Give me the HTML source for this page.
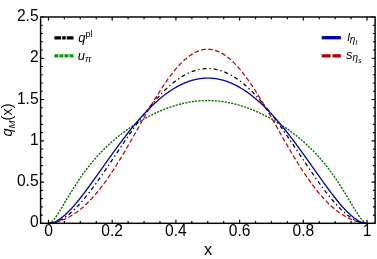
<!DOCTYPE html>
<html><head><meta charset="utf-8"><title>plot</title>
<style>
html,body{margin:0;padding:0;background:#fff;}
body{width:377px;height:259px;overflow:hidden;font-family:"Liberation Sans",sans-serif;}
svg{display:block;will-change:transform;opacity:0.999;}
text{font-family:"Liberation Sans",sans-serif;fill:#000;}
</style></head><body>
<svg width="377" height="259" viewBox="0 0 377 259">
<rect x="0" y="0" width="377" height="259" fill="#fff"/>
<defs><clipPath id="c"><rect x="40.6" y="17.0" width="334.5" height="206.3"/></clipPath></defs>
<g clip-path="url(#c)" fill="none" stroke-linejoin="round">
<path d="M48.50,223.30 L49.30,223.17 L50.09,222.83 L50.89,222.34 L51.69,221.70 L52.48,220.95 L53.28,220.11 L54.07,219.18 L54.87,218.19 L55.67,217.13 L56.46,216.02 L57.26,214.86 L58.05,213.66 L58.85,212.44 L59.65,211.18 L60.44,209.90 L61.24,208.61 L62.04,207.30 L62.83,205.98 L63.63,204.65 L64.42,203.31 L65.22,201.97 L66.02,200.63 L66.81,199.29 L67.61,197.96 L68.41,196.62 L69.20,195.30 L70.00,193.98 L70.80,192.67 L71.59,191.37 L72.39,190.07 L73.18,188.79 L73.98,187.52 L74.78,186.26 L75.57,185.02 L76.37,183.78 L77.16,182.56 L77.96,181.36 L78.76,180.16 L79.55,178.98 L80.35,177.82 L81.15,176.67 L81.94,175.53 L82.74,174.41 L83.53,173.30 L84.33,172.20 L85.13,171.12 L85.92,170.05 L86.72,169.00 L87.52,167.95 L88.31,166.93 L89.11,165.91 L89.91,164.91 L90.70,163.93 L91.50,162.95 L92.29,161.99 L93.09,161.04 L93.89,160.10 L94.68,159.18 L95.48,158.27 L96.28,157.36 L97.07,156.48 L97.87,155.60 L98.66,154.73 L99.46,153.88 L100.26,153.03 L101.05,152.20 L101.85,151.37 L102.65,150.56 L103.44,149.76 L104.24,148.96 L105.03,148.18 L105.83,147.41 L106.63,146.64 L107.42,145.89 L108.22,145.14 L109.02,144.41 L109.81,143.68 L110.61,142.96 L111.40,142.25 L112.20,141.54 L113.00,140.85 L113.79,140.16 L114.59,139.48 L115.38,138.81 L116.18,138.15 L116.98,137.49 L117.77,136.84 L118.57,136.20 L119.37,135.57 L120.16,134.94 L120.96,134.32 L121.76,133.71 L122.55,133.10 L123.35,132.50 L124.14,131.91 L124.94,131.32 L125.74,130.74 L126.53,130.17 L127.33,129.60 L128.12,129.04 L128.92,128.48 L129.72,127.93 L130.51,127.39 L131.31,126.85 L132.11,126.32 L132.90,125.79 L133.70,125.27 L134.50,124.75 L135.29,124.25 L136.09,123.74 L136.88,123.24 L137.68,122.75 L138.48,122.26 L139.27,121.78 L140.07,121.31 L140.87,120.83 L141.66,120.37 L142.46,119.91 L143.25,119.45 L144.05,119.00 L144.85,118.56 L145.64,118.12 L146.44,117.69 L147.24,117.26 L148.03,116.83 L148.83,116.41 L149.62,116.00 L150.42,115.59 L151.22,115.19 L152.01,114.79 L152.81,114.40 L153.61,114.01 L154.40,113.63 L155.20,113.26 L155.99,112.88 L156.79,112.52 L157.59,112.16 L158.38,111.80 L159.18,111.45 L159.98,111.10 L160.77,110.76 L161.57,110.43 L162.36,110.10 L163.16,109.77 L163.96,109.46 L164.75,109.14 L165.55,108.83 L166.34,108.53 L167.14,108.23 L167.94,107.94 L168.73,107.65 L169.53,107.37 L170.33,107.09 L171.12,106.82 L171.92,106.56 L172.72,106.30 L173.51,106.04 L174.31,105.80 L175.10,105.55 L175.90,105.32 L176.70,105.08 L177.49,104.86 L178.29,104.64 L179.09,104.42 L179.88,104.21 L180.68,104.01 L181.47,103.81 L182.27,103.62 L183.07,103.43 L183.86,103.25 L184.66,103.07 L185.45,102.90 L186.25,102.74 L187.05,102.58 L187.84,102.43 L188.64,102.28 L189.44,102.14 L190.23,102.01 L191.03,101.88 L191.83,101.76 L192.62,101.64 L193.42,101.53 L194.21,101.42 L195.01,101.32 L195.81,101.23 L196.60,101.14 L197.40,101.06 L198.20,100.99 L198.99,100.92 L199.79,100.85 L200.58,100.80 L201.38,100.75 L202.18,100.70 L202.97,100.66 L203.77,100.63 L204.56,100.60 L205.36,100.58 L206.16,100.56 L206.95,100.56 L207.75,100.55 L208.55,100.56 L209.34,100.56 L210.14,100.58 L210.94,100.60 L211.73,100.63 L212.53,100.66 L213.32,100.70 L214.12,100.75 L214.92,100.80 L215.71,100.85 L216.51,100.92 L217.31,100.99 L218.10,101.06 L218.90,101.14 L219.69,101.23 L220.49,101.32 L221.29,101.42 L222.08,101.53 L222.88,101.64 L223.68,101.76 L224.47,101.88 L225.27,102.01 L226.06,102.14 L226.86,102.28 L227.66,102.43 L228.45,102.58 L229.25,102.74 L230.05,102.90 L230.84,103.07 L231.64,103.25 L232.43,103.43 L233.23,103.62 L234.03,103.81 L234.82,104.01 L235.62,104.21 L236.41,104.42 L237.21,104.64 L238.01,104.86 L238.80,105.08 L239.60,105.32 L240.40,105.55 L241.19,105.80 L241.99,106.04 L242.78,106.30 L243.58,106.56 L244.38,106.82 L245.17,107.09 L245.97,107.37 L246.77,107.65 L247.56,107.94 L248.36,108.23 L249.16,108.53 L249.95,108.83 L250.75,109.14 L251.54,109.46 L252.34,109.77 L253.14,110.10 L253.93,110.43 L254.73,110.76 L255.53,111.10 L256.32,111.45 L257.12,111.80 L257.91,112.16 L258.71,112.52 L259.51,112.88 L260.30,113.26 L261.10,113.63 L261.89,114.01 L262.69,114.40 L263.49,114.79 L264.28,115.19 L265.08,115.59 L265.88,116.00 L266.67,116.41 L267.47,116.83 L268.26,117.26 L269.06,117.69 L269.86,118.12 L270.65,118.56 L271.45,119.00 L272.25,119.45 L273.04,119.91 L273.84,120.37 L274.63,120.83 L275.43,121.31 L276.23,121.78 L277.02,122.26 L277.82,122.75 L278.62,123.24 L279.41,123.74 L280.21,124.25 L281.00,124.75 L281.80,125.27 L282.60,125.79 L283.39,126.32 L284.19,126.85 L284.99,127.39 L285.78,127.93 L286.58,128.48 L287.38,129.04 L288.17,129.60 L288.97,130.17 L289.76,130.74 L290.56,131.32 L291.36,131.91 L292.15,132.50 L292.95,133.10 L293.75,133.71 L294.54,134.32 L295.34,134.94 L296.13,135.57 L296.93,136.20 L297.73,136.84 L298.52,137.49 L299.32,138.15 L300.12,138.81 L300.91,139.48 L301.71,140.16 L302.50,140.85 L303.30,141.54 L304.10,142.25 L304.89,142.96 L305.69,143.68 L306.49,144.41 L307.28,145.14 L308.08,145.89 L308.87,146.64 L309.67,147.41 L310.47,148.18 L311.26,148.96 L312.06,149.76 L312.86,150.56 L313.65,151.37 L314.45,152.20 L315.24,153.03 L316.04,153.88 L316.84,154.73 L317.63,155.60 L318.43,156.48 L319.22,157.36 L320.02,158.27 L320.82,159.18 L321.61,160.10 L322.41,161.04 L323.21,161.99 L324.00,162.95 L324.80,163.93 L325.59,164.91 L326.39,165.91 L327.19,166.93 L327.98,167.95 L328.78,169.00 L329.58,170.05 L330.37,171.12 L331.17,172.20 L331.97,173.30 L332.76,174.41 L333.56,175.53 L334.35,176.67 L335.15,177.82 L335.95,178.98 L336.74,180.16 L337.54,181.36 L338.34,182.56 L339.13,183.78 L339.93,185.02 L340.72,186.26 L341.52,187.52 L342.32,188.79 L343.11,190.07 L343.91,191.37 L344.71,192.67 L345.50,193.98 L346.30,195.30 L347.09,196.62 L347.89,197.96 L348.69,199.29 L349.48,200.63 L350.28,201.97 L351.08,203.31 L351.87,204.65 L352.67,205.98 L353.46,207.30 L354.26,208.61 L355.06,209.90 L355.85,211.18 L356.65,212.44 L357.44,213.66 L358.24,214.86 L359.04,216.02 L359.83,217.13 L360.63,218.19 L361.43,219.18 L362.22,220.11 L363.02,220.95 L363.81,221.70 L364.61,222.34 L365.41,222.83 L366.20,223.17 L367.00,223.30" stroke="#067206" stroke-width="1.4" stroke-dasharray="2.1 1.2"/>
<path d="M48.50,223.30 L49.30,223.28 L50.09,223.24 L50.89,223.17 L51.69,223.07 L52.48,222.96 L53.28,222.83 L54.07,222.68 L54.87,222.51 L55.67,222.33 L56.46,222.13 L57.26,221.92 L58.05,221.69 L58.85,221.44 L59.65,221.18 L60.44,220.91 L61.24,220.62 L62.04,220.32 L62.83,220.00 L63.63,219.67 L64.42,219.32 L65.22,218.96 L66.02,218.59 L66.81,218.20 L67.61,217.80 L68.41,217.38 L69.20,216.95 L70.00,216.51 L70.80,216.05 L71.59,215.57 L72.39,215.08 L73.18,214.58 L73.98,214.06 L74.78,213.53 L75.57,212.98 L76.37,212.42 L77.16,211.84 L77.96,211.25 L78.76,210.64 L79.55,210.02 L80.35,209.38 L81.15,208.73 L81.94,208.06 L82.74,207.38 L83.53,206.68 L84.33,205.96 L85.13,205.24 L85.92,204.49 L86.72,203.73 L87.52,202.96 L88.31,202.17 L89.11,201.36 L89.91,200.54 L90.70,199.71 L91.50,198.86 L92.29,197.99 L93.09,197.11 L93.89,196.21 L94.68,195.30 L95.48,194.38 L96.28,193.44 L97.07,192.48 L97.87,191.51 L98.66,190.53 L99.46,189.53 L100.26,188.52 L101.05,187.49 L101.85,186.45 L102.65,185.40 L103.44,184.33 L104.24,183.25 L105.03,182.16 L105.83,181.05 L106.63,179.93 L107.42,178.80 L108.22,177.65 L109.02,176.49 L109.81,175.32 L110.61,174.14 L111.40,172.95 L112.20,171.74 L113.00,170.53 L113.79,169.30 L114.59,168.06 L115.38,166.81 L116.18,165.56 L116.98,164.29 L117.77,163.01 L118.57,161.72 L119.37,160.43 L120.16,159.12 L120.96,157.81 L121.76,156.49 L122.55,155.16 L123.35,153.83 L124.14,152.48 L124.94,151.13 L125.74,149.78 L126.53,148.42 L127.33,147.05 L128.12,145.68 L128.92,144.30 L129.72,142.92 L130.51,141.53 L131.31,140.14 L132.11,138.75 L132.90,137.35 L133.70,135.95 L134.50,134.55 L135.29,133.15 L136.09,131.74 L136.88,130.34 L137.68,128.93 L138.48,127.53 L139.27,126.12 L140.07,124.71 L140.87,123.31 L141.66,121.91 L142.46,120.50 L143.25,119.11 L144.05,117.71 L144.85,116.32 L145.64,114.93 L146.44,113.54 L147.24,112.16 L148.03,110.78 L148.83,109.41 L149.62,108.05 L150.42,106.69 L151.22,105.34 L152.01,103.99 L152.81,102.65 L153.61,101.32 L154.40,100.00 L155.20,98.69 L155.99,97.38 L156.79,96.09 L157.59,94.80 L158.38,93.53 L159.18,92.27 L159.98,91.01 L160.77,89.77 L161.57,88.55 L162.36,87.33 L163.16,86.13 L163.96,84.94 L164.75,83.76 L165.55,82.60 L166.34,81.45 L167.14,80.31 L167.94,79.20 L168.73,78.09 L169.53,77.01 L170.33,75.94 L171.12,74.88 L171.92,73.84 L172.72,72.82 L173.51,71.82 L174.31,70.84 L175.10,69.87 L175.90,68.93 L176.70,68.00 L177.49,67.09 L178.29,66.20 L179.09,65.33 L179.88,64.48 L180.68,63.65 L181.47,62.84 L182.27,62.06 L183.07,61.29 L183.86,60.55 L184.66,59.83 L185.45,59.13 L186.25,58.45 L187.05,57.79 L187.84,57.16 L188.64,56.55 L189.44,55.97 L190.23,55.40 L191.03,54.86 L191.83,54.35 L192.62,53.86 L193.42,53.39 L194.21,52.95 L195.01,52.53 L195.81,52.14 L196.60,51.77 L197.40,51.42 L198.20,51.10 L198.99,50.81 L199.79,50.54 L200.58,50.30 L201.38,50.08 L202.18,49.89 L202.97,49.72 L203.77,49.58 L204.56,49.46 L205.36,49.37 L206.16,49.31 L206.95,49.27 L207.75,49.26 L208.55,49.27 L209.34,49.31 L210.14,49.37 L210.94,49.46 L211.73,49.58 L212.53,49.72 L213.32,49.89 L214.12,50.08 L214.92,50.30 L215.71,50.54 L216.51,50.81 L217.31,51.10 L218.10,51.42 L218.90,51.77 L219.69,52.14 L220.49,52.53 L221.29,52.95 L222.08,53.39 L222.88,53.86 L223.68,54.35 L224.47,54.86 L225.27,55.40 L226.06,55.97 L226.86,56.55 L227.66,57.16 L228.45,57.79 L229.25,58.45 L230.05,59.13 L230.84,59.83 L231.64,60.55 L232.43,61.29 L233.23,62.06 L234.03,62.84 L234.82,63.65 L235.62,64.48 L236.41,65.33 L237.21,66.20 L238.01,67.09 L238.80,68.00 L239.60,68.93 L240.40,69.87 L241.19,70.84 L241.99,71.82 L242.78,72.82 L243.58,73.84 L244.38,74.88 L245.17,75.94 L245.97,77.01 L246.77,78.09 L247.56,79.20 L248.36,80.31 L249.16,81.45 L249.95,82.60 L250.75,83.76 L251.54,84.94 L252.34,86.13 L253.14,87.33 L253.93,88.55 L254.73,89.77 L255.53,91.01 L256.32,92.27 L257.12,93.53 L257.91,94.80 L258.71,96.09 L259.51,97.38 L260.30,98.69 L261.10,100.00 L261.89,101.32 L262.69,102.65 L263.49,103.99 L264.28,105.34 L265.08,106.69 L265.88,108.05 L266.67,109.41 L267.47,110.78 L268.26,112.16 L269.06,113.54 L269.86,114.93 L270.65,116.32 L271.45,117.71 L272.25,119.11 L273.04,120.50 L273.84,121.91 L274.63,123.31 L275.43,124.71 L276.23,126.12 L277.02,127.53 L277.82,128.93 L278.62,130.34 L279.41,131.74 L280.21,133.15 L281.00,134.55 L281.80,135.95 L282.60,137.35 L283.39,138.75 L284.19,140.14 L284.99,141.53 L285.78,142.92 L286.58,144.30 L287.38,145.68 L288.17,147.05 L288.97,148.42 L289.76,149.78 L290.56,151.13 L291.36,152.48 L292.15,153.83 L292.95,155.16 L293.75,156.49 L294.54,157.81 L295.34,159.12 L296.13,160.43 L296.93,161.72 L297.73,163.01 L298.52,164.29 L299.32,165.56 L300.12,166.81 L300.91,168.06 L301.71,169.30 L302.50,170.53 L303.30,171.74 L304.10,172.95 L304.89,174.14 L305.69,175.32 L306.49,176.49 L307.28,177.65 L308.08,178.80 L308.87,179.93 L309.67,181.05 L310.47,182.16 L311.26,183.25 L312.06,184.33 L312.86,185.40 L313.65,186.45 L314.45,187.49 L315.24,188.52 L316.04,189.53 L316.84,190.53 L317.63,191.51 L318.43,192.48 L319.22,193.44 L320.02,194.38 L320.82,195.30 L321.61,196.21 L322.41,197.11 L323.21,197.99 L324.00,198.86 L324.80,199.71 L325.59,200.54 L326.39,201.36 L327.19,202.17 L327.98,202.96 L328.78,203.73 L329.58,204.49 L330.37,205.24 L331.17,205.96 L331.97,206.68 L332.76,207.38 L333.56,208.06 L334.35,208.73 L335.15,209.38 L335.95,210.02 L336.74,210.64 L337.54,211.25 L338.34,211.84 L339.13,212.42 L339.93,212.98 L340.72,213.53 L341.52,214.06 L342.32,214.58 L343.11,215.08 L343.91,215.57 L344.71,216.05 L345.50,216.51 L346.30,216.95 L347.09,217.38 L347.89,217.80 L348.69,218.20 L349.48,218.59 L350.28,218.96 L351.08,219.32 L351.87,219.67 L352.67,220.00 L353.46,220.32 L354.26,220.62 L355.06,220.91 L355.85,221.18 L356.65,221.44 L357.44,221.69 L358.24,221.92 L359.04,222.13 L359.83,222.33 L360.63,222.51 L361.43,222.68 L362.22,222.83 L363.02,222.96 L363.81,223.07 L364.61,223.17 L365.41,223.24 L366.20,223.28 L367.00,223.30" stroke="#c00000" stroke-width="1.25" stroke-dasharray="4.6 2.4"/>
<path d="M48.50,223.30 L49.30,223.28 L50.09,223.24 L50.89,223.16 L51.69,223.06 L52.48,222.92 L53.28,222.76 L54.07,222.57 L54.87,222.35 L55.67,222.10 L56.46,221.83 L57.26,221.53 L58.05,221.20 L58.85,220.85 L59.65,220.48 L60.44,220.07 L61.24,219.65 L62.04,219.20 L62.83,218.73 L63.63,218.23 L64.42,217.71 L65.22,217.17 L66.02,216.61 L66.81,216.03 L67.61,215.43 L68.41,214.80 L69.20,214.16 L70.00,213.49 L70.80,212.81 L71.59,212.11 L72.39,211.39 L73.18,210.65 L73.98,209.89 L74.78,209.12 L75.57,208.33 L76.37,207.52 L77.16,206.69 L77.96,205.86 L78.76,205.00 L79.55,204.13 L80.35,203.25 L81.15,202.35 L81.94,201.44 L82.74,200.51 L83.53,199.57 L84.33,198.62 L85.13,197.66 L85.92,196.68 L86.72,195.69 L87.52,194.69 L88.31,193.68 L89.11,192.66 L89.91,191.63 L90.70,190.59 L91.50,189.54 L92.29,188.48 L93.09,187.41 L93.89,186.34 L94.68,185.25 L95.48,184.16 L96.28,183.06 L97.07,181.95 L97.87,180.83 L98.66,179.71 L99.46,178.58 L100.26,177.45 L101.05,176.31 L101.85,175.16 L102.65,174.01 L103.44,172.86 L104.24,171.70 L105.03,170.53 L105.83,169.37 L106.63,168.20 L107.42,167.02 L108.22,165.84 L109.02,164.66 L109.81,163.48 L110.61,162.30 L111.40,161.11 L112.20,159.92 L113.00,158.74 L113.79,157.55 L114.59,156.36 L115.38,155.16 L116.18,153.97 L116.98,152.78 L117.77,151.59 L118.57,150.40 L119.37,149.21 L120.16,148.03 L120.96,146.84 L121.76,145.65 L122.55,144.47 L123.35,143.29 L124.14,142.11 L124.94,140.94 L125.74,139.76 L126.53,138.60 L127.33,137.43 L128.12,136.27 L128.92,135.11 L129.72,133.95 L130.51,132.80 L131.31,131.66 L132.11,130.52 L132.90,129.38 L133.70,128.25 L134.50,127.13 L135.29,126.01 L136.09,124.89 L136.88,123.79 L137.68,122.69 L138.48,121.59 L139.27,120.50 L140.07,119.42 L140.87,118.35 L141.66,117.28 L142.46,116.22 L143.25,115.17 L144.05,114.13 L144.85,113.09 L145.64,112.06 L146.44,111.04 L147.24,110.03 L148.03,109.03 L148.83,108.04 L149.62,107.06 L150.42,106.08 L151.22,105.12 L152.01,104.16 L152.81,103.22 L153.61,102.28 L154.40,101.35 L155.20,100.44 L155.99,99.53 L156.79,98.64 L157.59,97.76 L158.38,96.88 L159.18,96.02 L159.98,95.17 L160.77,94.33 L161.57,93.51 L162.36,92.69 L163.16,91.88 L163.96,91.09 L164.75,90.31 L165.55,89.54 L166.34,88.79 L167.14,88.04 L167.94,87.31 L168.73,86.59 L169.53,85.89 L170.33,85.19 L171.12,84.51 L171.92,83.84 L172.72,83.19 L173.51,82.55 L174.31,81.92 L175.10,81.31 L175.90,80.71 L176.70,80.12 L177.49,79.54 L178.29,78.98 L179.09,78.44 L179.88,77.91 L180.68,77.39 L181.47,76.89 L182.27,76.40 L183.07,75.92 L183.86,75.46 L184.66,75.01 L185.45,74.58 L186.25,74.16 L187.05,73.76 L187.84,73.37 L188.64,73.00 L189.44,72.64 L190.23,72.30 L191.03,71.97 L191.83,71.65 L192.62,71.36 L193.42,71.07 L194.21,70.80 L195.01,70.55 L195.81,70.31 L196.60,70.09 L197.40,69.88 L198.20,69.69 L198.99,69.51 L199.79,69.35 L200.58,69.20 L201.38,69.07 L202.18,68.95 L202.97,68.85 L203.77,68.77 L204.56,68.70 L205.36,68.64 L206.16,68.61 L206.95,68.58 L207.75,68.58 L208.55,68.58 L209.34,68.61 L210.14,68.64 L210.94,68.70 L211.73,68.77 L212.53,68.85 L213.32,68.95 L214.12,69.07 L214.92,69.20 L215.71,69.35 L216.51,69.51 L217.31,69.69 L218.10,69.88 L218.90,70.09 L219.69,70.31 L220.49,70.55 L221.29,70.80 L222.08,71.07 L222.88,71.36 L223.68,71.65 L224.47,71.97 L225.27,72.30 L226.06,72.64 L226.86,73.00 L227.66,73.37 L228.45,73.76 L229.25,74.16 L230.05,74.58 L230.84,75.01 L231.64,75.46 L232.43,75.92 L233.23,76.40 L234.03,76.89 L234.82,77.39 L235.62,77.91 L236.41,78.44 L237.21,78.98 L238.01,79.54 L238.80,80.12 L239.60,80.71 L240.40,81.31 L241.19,81.92 L241.99,82.55 L242.78,83.19 L243.58,83.84 L244.38,84.51 L245.17,85.19 L245.97,85.89 L246.77,86.59 L247.56,87.31 L248.36,88.04 L249.16,88.79 L249.95,89.54 L250.75,90.31 L251.54,91.09 L252.34,91.88 L253.14,92.69 L253.93,93.51 L254.73,94.33 L255.53,95.17 L256.32,96.02 L257.12,96.88 L257.91,97.76 L258.71,98.64 L259.51,99.53 L260.30,100.44 L261.10,101.35 L261.89,102.28 L262.69,103.22 L263.49,104.16 L264.28,105.12 L265.08,106.08 L265.88,107.06 L266.67,108.04 L267.47,109.03 L268.26,110.03 L269.06,111.04 L269.86,112.06 L270.65,113.09 L271.45,114.13 L272.25,115.17 L273.04,116.22 L273.84,117.28 L274.63,118.35 L275.43,119.42 L276.23,120.50 L277.02,121.59 L277.82,122.69 L278.62,123.79 L279.41,124.89 L280.21,126.01 L281.00,127.13 L281.80,128.25 L282.60,129.38 L283.39,130.52 L284.19,131.66 L284.99,132.80 L285.78,133.95 L286.58,135.11 L287.38,136.27 L288.17,137.43 L288.97,138.60 L289.76,139.76 L290.56,140.94 L291.36,142.11 L292.15,143.29 L292.95,144.47 L293.75,145.65 L294.54,146.84 L295.34,148.03 L296.13,149.21 L296.93,150.40 L297.73,151.59 L298.52,152.78 L299.32,153.97 L300.12,155.16 L300.91,156.36 L301.71,157.55 L302.50,158.74 L303.30,159.92 L304.10,161.11 L304.89,162.30 L305.69,163.48 L306.49,164.66 L307.28,165.84 L308.08,167.02 L308.87,168.20 L309.67,169.37 L310.47,170.53 L311.26,171.70 L312.06,172.86 L312.86,174.01 L313.65,175.16 L314.45,176.31 L315.24,177.45 L316.04,178.58 L316.84,179.71 L317.63,180.83 L318.43,181.95 L319.22,183.06 L320.02,184.16 L320.82,185.25 L321.61,186.34 L322.41,187.41 L323.21,188.48 L324.00,189.54 L324.80,190.59 L325.59,191.63 L326.39,192.66 L327.19,193.68 L327.98,194.69 L328.78,195.69 L329.58,196.68 L330.37,197.66 L331.17,198.62 L331.97,199.57 L332.76,200.51 L333.56,201.44 L334.35,202.35 L335.15,203.25 L335.95,204.13 L336.74,205.00 L337.54,205.86 L338.34,206.69 L339.13,207.52 L339.93,208.33 L340.72,209.12 L341.52,209.89 L342.32,210.65 L343.11,211.39 L343.91,212.11 L344.71,212.81 L345.50,213.49 L346.30,214.16 L347.09,214.80 L347.89,215.43 L348.69,216.03 L349.48,216.61 L350.28,217.17 L351.08,217.71 L351.87,218.23 L352.67,218.73 L353.46,219.20 L354.26,219.65 L355.06,220.07 L355.85,220.48 L356.65,220.85 L357.44,221.20 L358.24,221.53 L359.04,221.83 L359.83,222.10 L360.63,222.35 L361.43,222.57 L362.22,222.76 L363.02,222.92 L363.81,223.06 L364.61,223.16 L365.41,223.24 L366.20,223.28 L367.00,223.30" stroke="#000" stroke-width="1.25" stroke-dasharray="4 2.9 1.4 2.9"/>
<path d="M48.50,223.30 L49.30,223.27 L50.09,223.20 L50.89,223.07 L51.69,222.90 L52.48,222.69 L53.28,222.44 L54.07,222.14 L54.87,221.82 L55.67,221.45 L56.46,221.05 L57.26,220.62 L58.05,220.15 L58.85,219.66 L59.65,219.13 L60.44,218.58 L61.24,218.00 L62.04,217.39 L62.83,216.76 L63.63,216.10 L64.42,215.42 L65.22,214.72 L66.02,213.99 L66.81,213.25 L67.61,212.48 L68.41,211.69 L69.20,210.89 L70.00,210.06 L70.80,209.22 L71.59,208.37 L72.39,207.49 L73.18,206.60 L73.98,205.70 L74.78,204.78 L75.57,203.85 L76.37,202.91 L77.16,201.95 L77.96,200.98 L78.76,200.00 L79.55,199.01 L80.35,198.00 L81.15,196.99 L81.94,195.97 L82.74,194.94 L83.53,193.90 L84.33,192.86 L85.13,191.80 L85.92,190.74 L86.72,189.67 L87.52,188.60 L88.31,187.52 L89.11,186.43 L89.91,185.34 L90.70,184.25 L91.50,183.15 L92.29,182.04 L93.09,180.93 L93.89,179.82 L94.68,178.71 L95.48,177.59 L96.28,176.47 L97.07,175.35 L97.87,174.23 L98.66,173.11 L99.46,171.98 L100.26,170.85 L101.05,169.73 L101.85,168.60 L102.65,167.47 L103.44,166.34 L104.24,165.22 L105.03,164.09 L105.83,162.97 L106.63,161.84 L107.42,160.72 L108.22,159.60 L109.02,158.48 L109.81,157.37 L110.61,156.25 L111.40,155.14 L112.20,154.03 L113.00,152.93 L113.79,151.83 L114.59,150.73 L115.38,149.63 L116.18,148.54 L116.98,147.45 L117.77,146.37 L118.57,145.29 L119.37,144.22 L120.16,143.15 L120.96,142.08 L121.76,141.02 L122.55,139.97 L123.35,138.92 L124.14,137.88 L124.94,136.84 L125.74,135.81 L126.53,134.78 L127.33,133.76 L128.12,132.75 L128.92,131.74 L129.72,130.74 L130.51,129.75 L131.31,128.76 L132.11,127.78 L132.90,126.81 L133.70,125.84 L134.50,124.88 L135.29,123.93 L136.09,122.99 L136.88,122.05 L137.68,121.13 L138.48,120.21 L139.27,119.29 L140.07,118.39 L140.87,117.49 L141.66,116.60 L142.46,115.72 L143.25,114.85 L144.05,113.99 L144.85,113.14 L145.64,112.29 L146.44,111.46 L147.24,110.63 L148.03,109.81 L148.83,109.00 L149.62,108.20 L150.42,107.41 L151.22,106.63 L152.01,105.85 L152.81,105.09 L153.61,104.34 L154.40,103.59 L155.20,102.86 L155.99,102.14 L156.79,101.42 L157.59,100.72 L158.38,100.02 L159.18,99.34 L159.98,98.66 L160.77,98.00 L161.57,97.34 L162.36,96.70 L163.16,96.06 L163.96,95.44 L164.75,94.83 L165.55,94.22 L166.34,93.63 L167.14,93.05 L167.94,92.48 L168.73,91.92 L169.53,91.37 L170.33,90.83 L171.12,90.30 L171.92,89.78 L172.72,89.27 L173.51,88.78 L174.31,88.29 L175.10,87.82 L175.90,87.35 L176.70,86.90 L177.49,86.46 L178.29,86.03 L179.09,85.61 L179.88,85.20 L180.68,84.81 L181.47,84.42 L182.27,84.05 L183.07,83.68 L183.86,83.33 L184.66,82.99 L185.45,82.66 L186.25,82.34 L187.05,82.04 L187.84,81.74 L188.64,81.46 L189.44,81.18 L190.23,80.92 L191.03,80.67 L191.83,80.44 L192.62,80.21 L193.42,80.00 L194.21,79.79 L195.01,79.60 L195.81,79.42 L196.60,79.25 L197.40,79.09 L198.20,78.95 L198.99,78.81 L199.79,78.69 L200.58,78.58 L201.38,78.48 L202.18,78.40 L202.97,78.32 L203.77,78.26 L204.56,78.20 L205.36,78.16 L206.16,78.13 L206.95,78.12 L207.75,78.11 L208.55,78.12 L209.34,78.13 L210.14,78.16 L210.94,78.20 L211.73,78.26 L212.53,78.32 L213.32,78.40 L214.12,78.48 L214.92,78.58 L215.71,78.69 L216.51,78.81 L217.31,78.95 L218.10,79.09 L218.90,79.25 L219.69,79.42 L220.49,79.60 L221.29,79.79 L222.08,80.00 L222.88,80.21 L223.68,80.44 L224.47,80.67 L225.27,80.92 L226.06,81.18 L226.86,81.46 L227.66,81.74 L228.45,82.04 L229.25,82.34 L230.05,82.66 L230.84,82.99 L231.64,83.33 L232.43,83.68 L233.23,84.05 L234.03,84.42 L234.82,84.81 L235.62,85.20 L236.41,85.61 L237.21,86.03 L238.01,86.46 L238.80,86.90 L239.60,87.35 L240.40,87.82 L241.19,88.29 L241.99,88.78 L242.78,89.27 L243.58,89.78 L244.38,90.30 L245.17,90.83 L245.97,91.37 L246.77,91.92 L247.56,92.48 L248.36,93.05 L249.16,93.63 L249.95,94.22 L250.75,94.83 L251.54,95.44 L252.34,96.06 L253.14,96.70 L253.93,97.34 L254.73,98.00 L255.53,98.66 L256.32,99.34 L257.12,100.02 L257.91,100.72 L258.71,101.42 L259.51,102.14 L260.30,102.86 L261.10,103.59 L261.89,104.34 L262.69,105.09 L263.49,105.85 L264.28,106.63 L265.08,107.41 L265.88,108.20 L266.67,109.00 L267.47,109.81 L268.26,110.63 L269.06,111.46 L269.86,112.29 L270.65,113.14 L271.45,113.99 L272.25,114.85 L273.04,115.72 L273.84,116.60 L274.63,117.49 L275.43,118.39 L276.23,119.29 L277.02,120.21 L277.82,121.13 L278.62,122.05 L279.41,122.99 L280.21,123.93 L281.00,124.88 L281.80,125.84 L282.60,126.81 L283.39,127.78 L284.19,128.76 L284.99,129.75 L285.78,130.74 L286.58,131.74 L287.38,132.75 L288.17,133.76 L288.97,134.78 L289.76,135.81 L290.56,136.84 L291.36,137.88 L292.15,138.92 L292.95,139.97 L293.75,141.02 L294.54,142.08 L295.34,143.15 L296.13,144.22 L296.93,145.29 L297.73,146.37 L298.52,147.45 L299.32,148.54 L300.12,149.63 L300.91,150.73 L301.71,151.83 L302.50,152.93 L303.30,154.03 L304.10,155.14 L304.89,156.25 L305.69,157.37 L306.49,158.48 L307.28,159.60 L308.08,160.72 L308.87,161.84 L309.67,162.97 L310.47,164.09 L311.26,165.22 L312.06,166.34 L312.86,167.47 L313.65,168.60 L314.45,169.73 L315.24,170.85 L316.04,171.98 L316.84,173.11 L317.63,174.23 L318.43,175.35 L319.22,176.47 L320.02,177.59 L320.82,178.71 L321.61,179.82 L322.41,180.93 L323.21,182.04 L324.00,183.15 L324.80,184.25 L325.59,185.34 L326.39,186.43 L327.19,187.52 L327.98,188.60 L328.78,189.67 L329.58,190.74 L330.37,191.80 L331.17,192.86 L331.97,193.90 L332.76,194.94 L333.56,195.97 L334.35,196.99 L335.15,198.00 L335.95,199.01 L336.74,200.00 L337.54,200.98 L338.34,201.95 L339.13,202.91 L339.93,203.85 L340.72,204.78 L341.52,205.70 L342.32,206.60 L343.11,207.49 L343.91,208.37 L344.71,209.22 L345.50,210.06 L346.30,210.89 L347.09,211.69 L347.89,212.48 L348.69,213.25 L349.48,213.99 L350.28,214.72 L351.08,215.42 L351.87,216.10 L352.67,216.76 L353.46,217.39 L354.26,218.00 L355.06,218.58 L355.85,219.13 L356.65,219.66 L357.44,220.15 L358.24,220.62 L359.04,221.05 L359.83,221.45 L360.63,221.82 L361.43,222.14 L362.22,222.44 L363.02,222.69 L363.81,222.90 L364.61,223.07 L365.41,223.20 L366.20,223.27 L367.00,223.30" stroke="#0808a8" stroke-width="1.35"/>
</g>
<rect x="40.6" y="17.0" width="334.5" height="206.3" fill="none" stroke="#000" stroke-width="1.45"/>
<path d="M48.50,223.30 v-3.50 M48.50,17.00 v3.50 M64.42,223.30 v-2.20 M64.42,17.00 v2.20 M80.35,223.30 v-2.20 M80.35,17.00 v2.20 M96.28,223.30 v-2.20 M96.28,17.00 v2.20 M112.20,223.30 v-3.50 M112.20,17.00 v3.50 M128.12,223.30 v-2.20 M128.12,17.00 v2.20 M144.05,223.30 v-2.20 M144.05,17.00 v2.20 M159.98,223.30 v-2.20 M159.98,17.00 v2.20 M175.90,223.30 v-3.50 M175.90,17.00 v3.50 M191.83,223.30 v-2.20 M191.83,17.00 v2.20 M207.75,223.30 v-2.20 M207.75,17.00 v2.20 M223.68,223.30 v-2.20 M223.68,17.00 v2.20 M239.60,223.30 v-3.50 M239.60,17.00 v3.50 M255.53,223.30 v-2.20 M255.53,17.00 v2.20 M271.45,223.30 v-2.20 M271.45,17.00 v2.20 M287.38,223.30 v-2.20 M287.38,17.00 v2.20 M303.30,223.30 v-3.50 M303.30,17.00 v3.50 M319.23,223.30 v-2.20 M319.23,17.00 v2.20 M335.15,223.30 v-2.20 M335.15,17.00 v2.20 M351.08,223.30 v-2.20 M351.08,17.00 v2.20 M367.00,223.30 v-3.50 M367.00,17.00 v3.50 M40.60,223.30 h3.50 M375.10,223.30 h-3.50 M40.60,215.05 h2.20 M375.10,215.05 h-2.20 M40.60,206.80 h2.20 M375.10,206.80 h-2.20 M40.60,198.54 h2.20 M375.10,198.54 h-2.20 M40.60,190.29 h2.20 M375.10,190.29 h-2.20 M40.60,182.04 h3.50 M375.10,182.04 h-3.50 M40.60,173.79 h2.20 M375.10,173.79 h-2.20 M40.60,165.54 h2.20 M375.10,165.54 h-2.20 M40.60,157.28 h2.20 M375.10,157.28 h-2.20 M40.60,149.03 h2.20 M375.10,149.03 h-2.20 M40.60,140.78 h3.50 M375.10,140.78 h-3.50 M40.60,132.53 h2.20 M375.10,132.53 h-2.20 M40.60,124.28 h2.20 M375.10,124.28 h-2.20 M40.60,116.02 h2.20 M375.10,116.02 h-2.20 M40.60,107.77 h2.20 M375.10,107.77 h-2.20 M40.60,99.52 h3.50 M375.10,99.52 h-3.50 M40.60,91.27 h2.20 M375.10,91.27 h-2.20 M40.60,83.02 h2.20 M375.10,83.02 h-2.20 M40.60,74.76 h2.20 M375.10,74.76 h-2.20 M40.60,66.51 h2.20 M375.10,66.51 h-2.20 M40.60,58.26 h3.50 M375.10,58.26 h-3.50 M40.60,50.01 h2.20 M375.10,50.01 h-2.20 M40.60,41.76 h2.20 M375.10,41.76 h-2.20 M40.60,33.50 h2.20 M375.10,33.50 h-2.20 M40.60,25.25 h2.20 M375.10,25.25 h-2.20 M40.60,17.00 h3.50 M375.10,17.00 h-3.50" stroke="#000" stroke-width="1.2" fill="none"/>
<g font-size="15.6"><text x="48.50" y="236.1" text-anchor="middle">0</text><text x="112.20" y="236.1" text-anchor="middle">0.2</text><text x="175.90" y="236.1" text-anchor="middle">0.4</text><text x="239.60" y="236.1" text-anchor="middle">0.6</text><text x="303.30" y="236.1" text-anchor="middle">0.8</text><text x="367.00" y="236.1" text-anchor="middle">1</text><text x="38.6" y="227.40" text-anchor="end">0</text><text x="38.6" y="186.14" text-anchor="end">0.5</text><text x="38.6" y="144.88" text-anchor="end">1</text><text x="38.6" y="103.62" text-anchor="end">1.5</text><text x="38.6" y="62.36" text-anchor="end">2</text><text x="38.6" y="21.10" text-anchor="end">2.5</text></g>
<!-- axis labels -->
<text x="208.1" y="254.8" font-size="16.3" text-anchor="middle">x</text>
<g transform="translate(12.3,120) rotate(-90)"><text x="0" y="0" font-size="14.5" text-anchor="middle"><tspan font-style="italic">q</tspan><tspan font-size="9.5" dy="3" font-style="italic">M</tspan><tspan dy="-3">(x)</tspan></text></g>
<!-- legends -->
<g fill="none" stroke-width="3.3">
<path d="M54.4,37.8 H73.5" stroke="#000" stroke-dasharray="6.7 1.1 3.5 1.1 6.7 0"/>
<path d="M54.4,55.9 H73.5" stroke="#0a9a0a" stroke-dasharray="4 1.03"/>
<path d="M321.7,37.7 H340.9" stroke="#0000aa"/>
<path d="M321.7,55.9 H340.9" stroke="#b40000" stroke-dasharray="8.9 1.9"/>
</g>
<text x="78.2" y="41.8" font-size="13"><tspan font-style="italic">q</tspan><tspan font-size="9" dy="-4.8">pl</tspan></text>
<text x="77.8" y="59.5" font-size="13"><tspan font-style="italic">u</tspan><tspan font-size="9.5" dy="2" font-style="italic">π</tspan></text>
<text x="347.2" y="41.1" font-size="13"><tspan font-style="italic" font-size="11.8">l</tspan><tspan font-size="10" dy="2" font-style="italic">η</tspan><tspan font-size="7.5" dy="1.5" font-style="italic">l</tspan></text>
<text x="346.0" y="59.4" font-size="13"><tspan font-style="italic">s</tspan><tspan font-size="10" dy="2" font-style="italic">η</tspan><tspan font-size="7" dy="1.5" font-style="italic">s</tspan></text>
</svg>
</body></html>
